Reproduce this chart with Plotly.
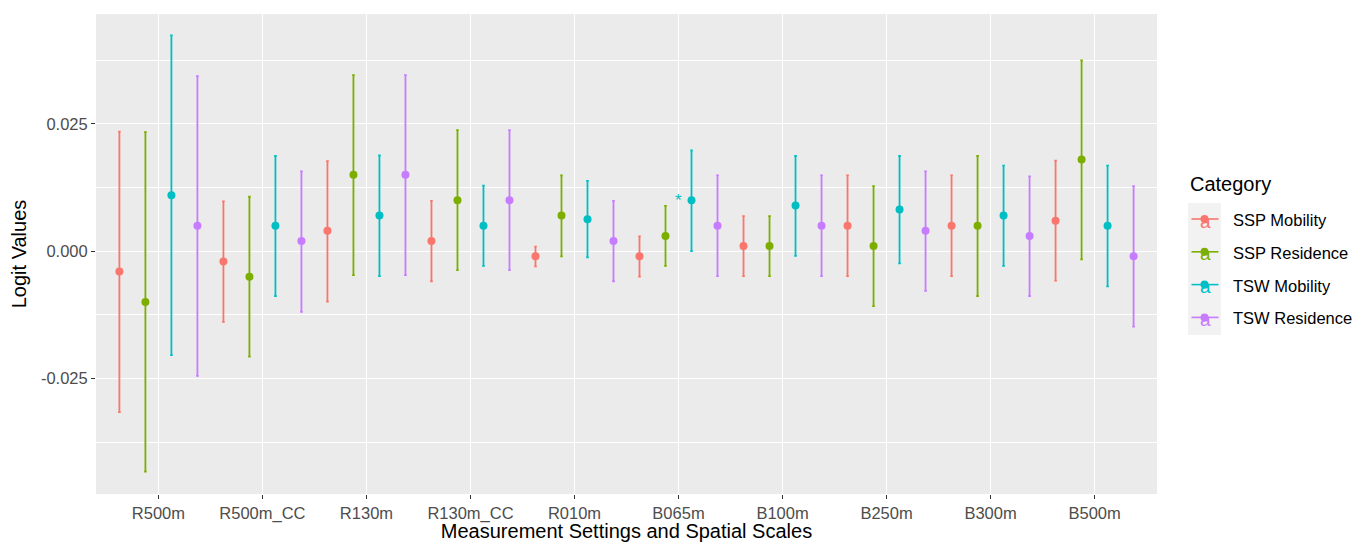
import numpy as np
import plotly.graph_objects as go

categories = ["R500m", "R500m_CC", "R130m", "R130m_CC", "R010m",
              "B065m", "B100m", "B250m", "B300m", "B500m"]
series_names = ["SSP Mobility", "SSP Residence", "TSW Mobility", "TSW Residence"]
colors = ["#F8766D", "#7CAE00", "#00BFC4", "#C77CFF"]

ssp_mob_mean = [-0.004, -0.002, 0.004, 0.002, -0.001, -0.001, 0.001, 0.005, 0.005, 0.006]
ssp_mob_hi = [0.0235, 0.0098, 0.0177, 0.0099, 0.0009, 0.0029, 0.0069, 0.0149, 0.0149, 0.0178]
ssp_mob_lo = [-0.0316, -0.0139, -0.0099, -0.0059, -0.0030, -0.0050, -0.0049, -0.0049, -0.0049, -0.0058]

ssp_res_mean = [-0.010, -0.005, 0.015, 0.010, 0.007, 0.003, 0.001, 0.001, 0.005, 0.018]
ssp_res_hi = [0.0234, 0.0107, 0.0346, 0.0238, 0.0149, 0.0089, 0.0069, 0.0128, 0.0187, 0.0375]
ssp_res_lo = [-0.0433, -0.0207, -0.0047, -0.0037, -0.0010, -0.0029, -0.0049, -0.0108, -0.0088, -0.0016]

tsw_mob_mean = [0.011, 0.005, 0.007, 0.005, 0.0063, 0.010, 0.009, 0.0082, 0.007, 0.005]
tsw_mob_hi = [0.0424, 0.0187, 0.0188, 0.0129, 0.0138, 0.0198, 0.0187, 0.0187, 0.0168, 0.0168]
tsw_mob_lo = [-0.0204, -0.0088, -0.0049, -0.0029, -0.0012, 0.0000, -0.0009, -0.0024, -0.0029, -0.0069]

tsw_res_mean = [0.005, 0.002, 0.015, 0.010, 0.002, 0.005, 0.005, 0.004, 0.003, -0.001]
tsw_res_hi = [0.0344, 0.0157, 0.0346, 0.0238, 0.0099, 0.0149, 0.0149, 0.0157, 0.0147, 0.0128]
tsw_res_lo = [-0.0245, -0.0119, -0.0047, -0.0037, -0.0059, -0.0049, -0.0049, -0.0078, -0.0088, -0.0148]

# significance marker
sig_category = "B065m"
sig_value = 0.0105
sig_label = "*"

y_tickvals = [-0.025, 0.0, 0.025]
y_ticktext = ["-0.025", "0.000", "0.025"]

means = [ssp_mob_mean, ssp_res_mean, tsw_mob_mean, tsw_res_mean]
his = [ssp_mob_hi, ssp_res_hi, tsw_mob_hi, tsw_res_hi]
los = [ssp_mob_lo, ssp_res_lo, tsw_mob_lo, tsw_res_lo]

W, H = 1369, 542
ML, MR, MT, MB = 96, 212, 14, 48
PW, PH = W - ML - MR, H - MT - MB
FONT = "Liberation Sans, Arial, sans-serif"

n_series = len(series_names)
dodge_width = 1.0
idx = np.arange(len(categories))

fig = go.Figure()
for j in range(n_series):
    m = np.array(means[j])
    hi = np.array(his[j])
    lo = np.array(los[j])
    offset = (j - (n_series - 1) / 2) * dodge_width / n_series
    fig.add_trace(go.Scatter(
        x=idx + offset, y=m, mode="markers", name=series_names[j],
        marker=dict(color=colors[j], size=8, line=dict(width=0)),
        error_y=dict(type="data", symmetric=False, array=hi - m, arrayminus=m - lo,
                     color=colors[j], thickness=1.8, width=1.3),
        showlegend=False,
    ))

sig_x = categories.index(sig_category)
annotations = [dict(x=sig_x, y=sig_value, xref="x", yref="y", text=sig_label,
                    showarrow=False, font=dict(family=FONT, size=17, color=colors[2]),
                    yshift=-3)]

def px_x(px):
    return (px - ML) / PW

def px_y(py):
    return (H - MB - py) / PH

shapes = []
# legend key background
shapes.append(dict(type="rect", xref="paper", yref="paper",
                   x0=px_x(1188), x1=px_x(1221), y0=px_y(335), y1=px_y(203),
                   fillcolor="#F2F2F2", line=dict(width=0), layer="below"))
annotations.append(dict(x=px_x(1188), y=px_y(184), xref="paper", yref="paper",
                        text="Category", showarrow=False, xanchor="left", yanchor="middle",
                        font=dict(family=FONT, size=20, color="black")))
key_y0, key_dy = 219, 32.8
for j in range(n_series):
    cy = key_y0 + j * key_dy
    annotations.append(dict(x=px_x(1205.5), y=px_y(cy + 2), xref="paper", yref="paper",
                            text="a", showarrow=False, xanchor="center", yanchor="middle",
                            font=dict(family=FONT, size=19, color=colors[j])))
    shapes.append(dict(type="line", xref="paper", yref="paper",
                       x0=px_x(1191.5), x1=px_x(1218.5), y0=px_y(cy), y1=px_y(cy),
                       line=dict(color=colors[j], width=1.6)))
    shapes.append(dict(type="circle", xref="paper", yref="paper",
                       x0=px_x(1204.5 - 4), x1=px_x(1204.5 + 4),
                       y0=px_y(cy - 4), y1=px_y(cy + 4),
                       fillcolor=colors[j], line=dict(width=0)))
    annotations.append(dict(x=px_x(1231), y=px_y(cy + 1), xref="paper", yref="paper",
                            text=series_names[j], showarrow=False, xanchor="left",
                            yanchor="middle",
                            font=dict(family=FONT, size=16.5, color="black")))

fig.update_layout(
    width=W, height=H,
    margin=dict(l=ML, r=MR, t=MT, b=MB, pad=0),
    paper_bgcolor="white", plot_bgcolor="#EBEBEB",
    font=dict(family=FONT, size=16.5, color="#4D4D4D"),
    shapes=shapes, annotations=annotations,
    showlegend=False,
)
fig.update_xaxes(
    range=[-0.6, len(categories) - 1 + 0.6],
    tickvals=list(idx), ticktext=categories,
    showgrid=True, gridcolor="white", gridwidth=1.4,
    zeroline=False, showline=False,
    ticks="outside", ticklen=4, tickwidth=1.2, tickcolor="#333333",
    tickfont=dict(family=FONT, size=16.5, color="#4D4D4D"),
    title=dict(text="Measurement Settings and Spatial Scales", standoff=4,
               font=dict(family=FONT, size=20, color="black")),
    automargin=False,
)
fig.update_yaxes(
    range=[-0.0477, 0.0466],
    tickvals=y_tickvals, ticktext=y_ticktext,
    showgrid=True, gridcolor="white", gridwidth=1.4,
    zeroline=False, showline=False,
    ticks="outside", ticklen=4, tickwidth=1.2, tickcolor="#333333",
    tickfont=dict(family=FONT, size=16.5, color="#4D4D4D"),
    minor=dict(tickvals=[-0.0375, -0.0125, 0.0125, 0.0375], showgrid=True,
               gridcolor="white", gridwidth=0.7, ticks=""),
    title=dict(text="Logit Values", standoff=8,
               font=dict(family=FONT, size=20, color="black")),
    automargin=False,
)

fig.write_html("out.html", config={"displayModeBar": False},
               post_script="document.body.style.margin='0';document.body.style.padding='0';")
